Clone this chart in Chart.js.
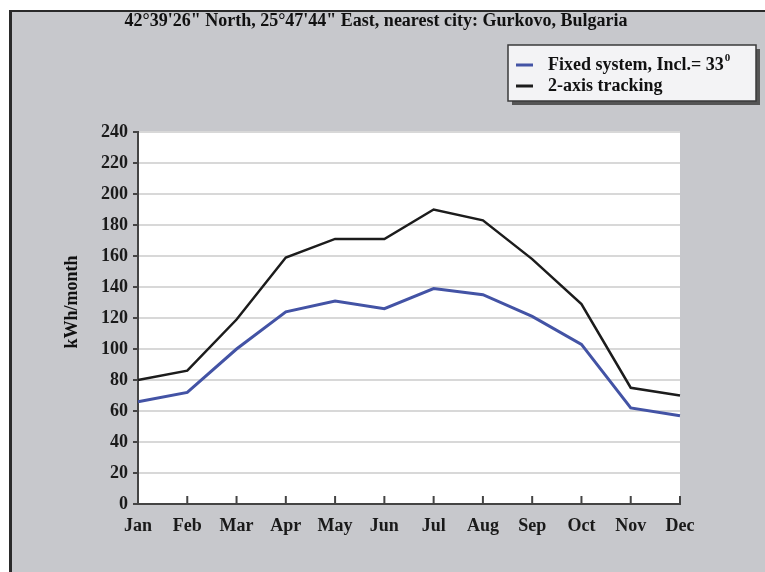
<!DOCTYPE html>
<html>
<head>
<meta charset="utf-8">
<script src="https://cdn.jsdelivr.net/npm/chart.js@4.4.1/dist/chart.umd.min.js"></script>
<style>
  body { margin: 0; background: #ffffff; }
  #contenedor { width: 765px; height: 572px; }
</style>
</head>
<body>
<div id="contenedor"><canvas id="cuadroGrafico"></canvas></div>
<script>

var meses = ['Jan', 'Feb', 'Mar', 'Apr', 'May', 'Jun', 'Jul', 'Aug', 'Sep', 'Oct', 'Nov', 'Dec'];
var sistemaFijo = [66, 72, 100, 124, 131, 126, 139, 135, 121, 103, 62, 57];
var seguimiento2Ejes = [80, 86, 119, 159, 171, 171, 190, 183, 158, 129, 75, 70];
var etiquetasSerie = ['Fixed system, Incl.= 33', '2-axis tracking'];
var titulo = '42\u00b039\'26" North, 25\u00b047\'44" East, nearest city: Gurkovo, Bulgaria';
var tituloEjeY = 'kWh/month';

var fuente = '"Liberation Serif", "DejaVu Serif", serif';
var colorAzul = '#4353a5';
var colorNegro = '#1c1c1c';

// fondo gris, marco y zona blanca del grafico
var pluginFondo = {
  id: 'fondo',
  beforeDraw: function (chart) {
    var ctx = chart.ctx;
    var area = chart.chartArea;
    ctx.save();
    ctx.fillStyle = '#ffffff';
    ctx.fillRect(0, 0, chart.width, chart.height);
    ctx.fillStyle = '#c7c8cc';
    ctx.fillRect(9, 10, chart.width - 9, chart.height - 10);
    ctx.fillStyle = '#2a2a2a';
    ctx.fillRect(9, 10, chart.width - 9, 2);
    ctx.fillRect(9, 10, 3, chart.height - 10);
    ctx.fillStyle = '#ffffff';
    ctx.fillRect(area.left, area.top, area.right - area.left, area.bottom - area.top);
    ctx.restore();
  },
  afterDraw: function (chart) {
    var ctx = chart.ctx;
    var area = chart.chartArea;
    var escalaX = chart.scales.x;
    ctx.save();

    // marcas del eje x hacia dentro
    ctx.strokeStyle = '#444444';
    ctx.lineWidth = 2;
    for (var i = 1; i < meses.length; i++) {
      var px = escalaX.getPixelForTick(i);
      ctx.beginPath();
      ctx.moveTo(px, area.bottom);
      ctx.lineTo(px, area.bottom - 8);
      ctx.stroke();
    }

    // titulo
    ctx.fillStyle = '#111111';
    ctx.font = 'bold 18px ' + fuente;
    ctx.textAlign = 'center';
    ctx.textBaseline = 'middle';
    ctx.fillText(titulo, 376, 21);

    // titulo eje y
    ctx.save();
    ctx.translate(72, 302);
    ctx.rotate(-Math.PI / 2);
    ctx.font = 'bold 18px ' + fuente;
    ctx.fillText(tituloEjeY, 0, 0);
    ctx.restore();

    // leyenda
    var lx = 508, ly = 45, lw = 248, lh = 56;
    ctx.fillStyle = '#555555';
    ctx.fillRect(lx + 4, ly + 4, lw, lh);
    ctx.fillStyle = '#f3f3f5';
    ctx.fillRect(lx, ly, lw, lh);
    ctx.strokeStyle = '#3a3a3a';
    ctx.lineWidth = 1.5;
    ctx.strokeRect(lx, ly, lw, lh);

    ctx.textAlign = 'left';
    ctx.font = 'bold 18px ' + fuente;
    var colores = [colorAzul, colorNegro];
    for (var j = 0; j < etiquetasSerie.length; j++) {
      var yy = ly + 20 + j * 21;
      ctx.strokeStyle = colores[j];
      ctx.lineWidth = 3;
      ctx.beginPath();
      ctx.moveTo(lx + 8, yy);
      ctx.lineTo(lx + 25, yy);
      ctx.stroke();
      ctx.fillStyle = '#111111';
      ctx.fillText(etiquetasSerie[j], lx + 40, yy);
      if (j == 0) {
        var ancho = ctx.measureText(etiquetasSerie[j]).width;
        ctx.font = 'bold 11px ' + fuente;
        ctx.fillText('0', lx + 40 + ancho + 1, yy - 7);
        ctx.font = 'bold 18px ' + fuente;
      }
    }
    ctx.restore();
  }
};

var datosImprimir = {
  labels: meses,
  datasets: [{
    label: etiquetasSerie[0],
    data: sistemaFijo,
    borderColor: colorAzul,
    borderWidth: 3,
    pointRadius: 0,
    lineTension: 0,
    fill: false
  }, {
    label: etiquetasSerie[1],
    data: seguimiento2Ejes,
    borderColor: colorNegro,
    borderWidth: 2.5,
    pointRadius: 0,
    lineTension: 0,
    fill: false
  }]
};

var chartOptions = {
  responsive: true,
  maintainAspectRatio: false,
  animation: false,
  layout: {
    padding: { left: 0, top: 132, right: 85, bottom: 0 }
  },
  plugins: {
    legend: { display: false },
    title: { display: false },
    tooltip: { enabled: false }
  },
  scales: {
    x: {
      offset: false,
      grid: { display: false, drawTicks: false },
      border: { color: '#444444', width: 2 },
      ticks: {
        color: '#1a1a1a',
        font: { family: fuente, size: 18, weight: 'bold' },
        padding: 12,
        maxRotation: 0,
        autoSkip: false
      },
      afterFit: function (escala) { escala.height = 68; }
    },
    y: {
      min: 0,
      max: 240,
      ticks: {
        stepSize: 20,
        color: '#1a1a1a',
        font: { family: fuente, size: 18, weight: 'bold' },
        padding: 5
      },
      grid: {
        color: '#d8d8d8',
        lineWidth: 2,
        tickColor: '#444444',
        tickLength: 5,
        tickWidth: 2
      },
      border: { color: '#444444', width: 2 },
      afterFit: function (escala) { escala.width = 138; }
    }
  }
};

var cuadroGrafico = document.getElementById('cuadroGrafico');
var lineChart = new Chart(cuadroGrafico, {
  type: 'line',
  data: datosImprimir,
  options: chartOptions,
  plugins: [pluginFondo]
});

</script>
</body>
</html>
